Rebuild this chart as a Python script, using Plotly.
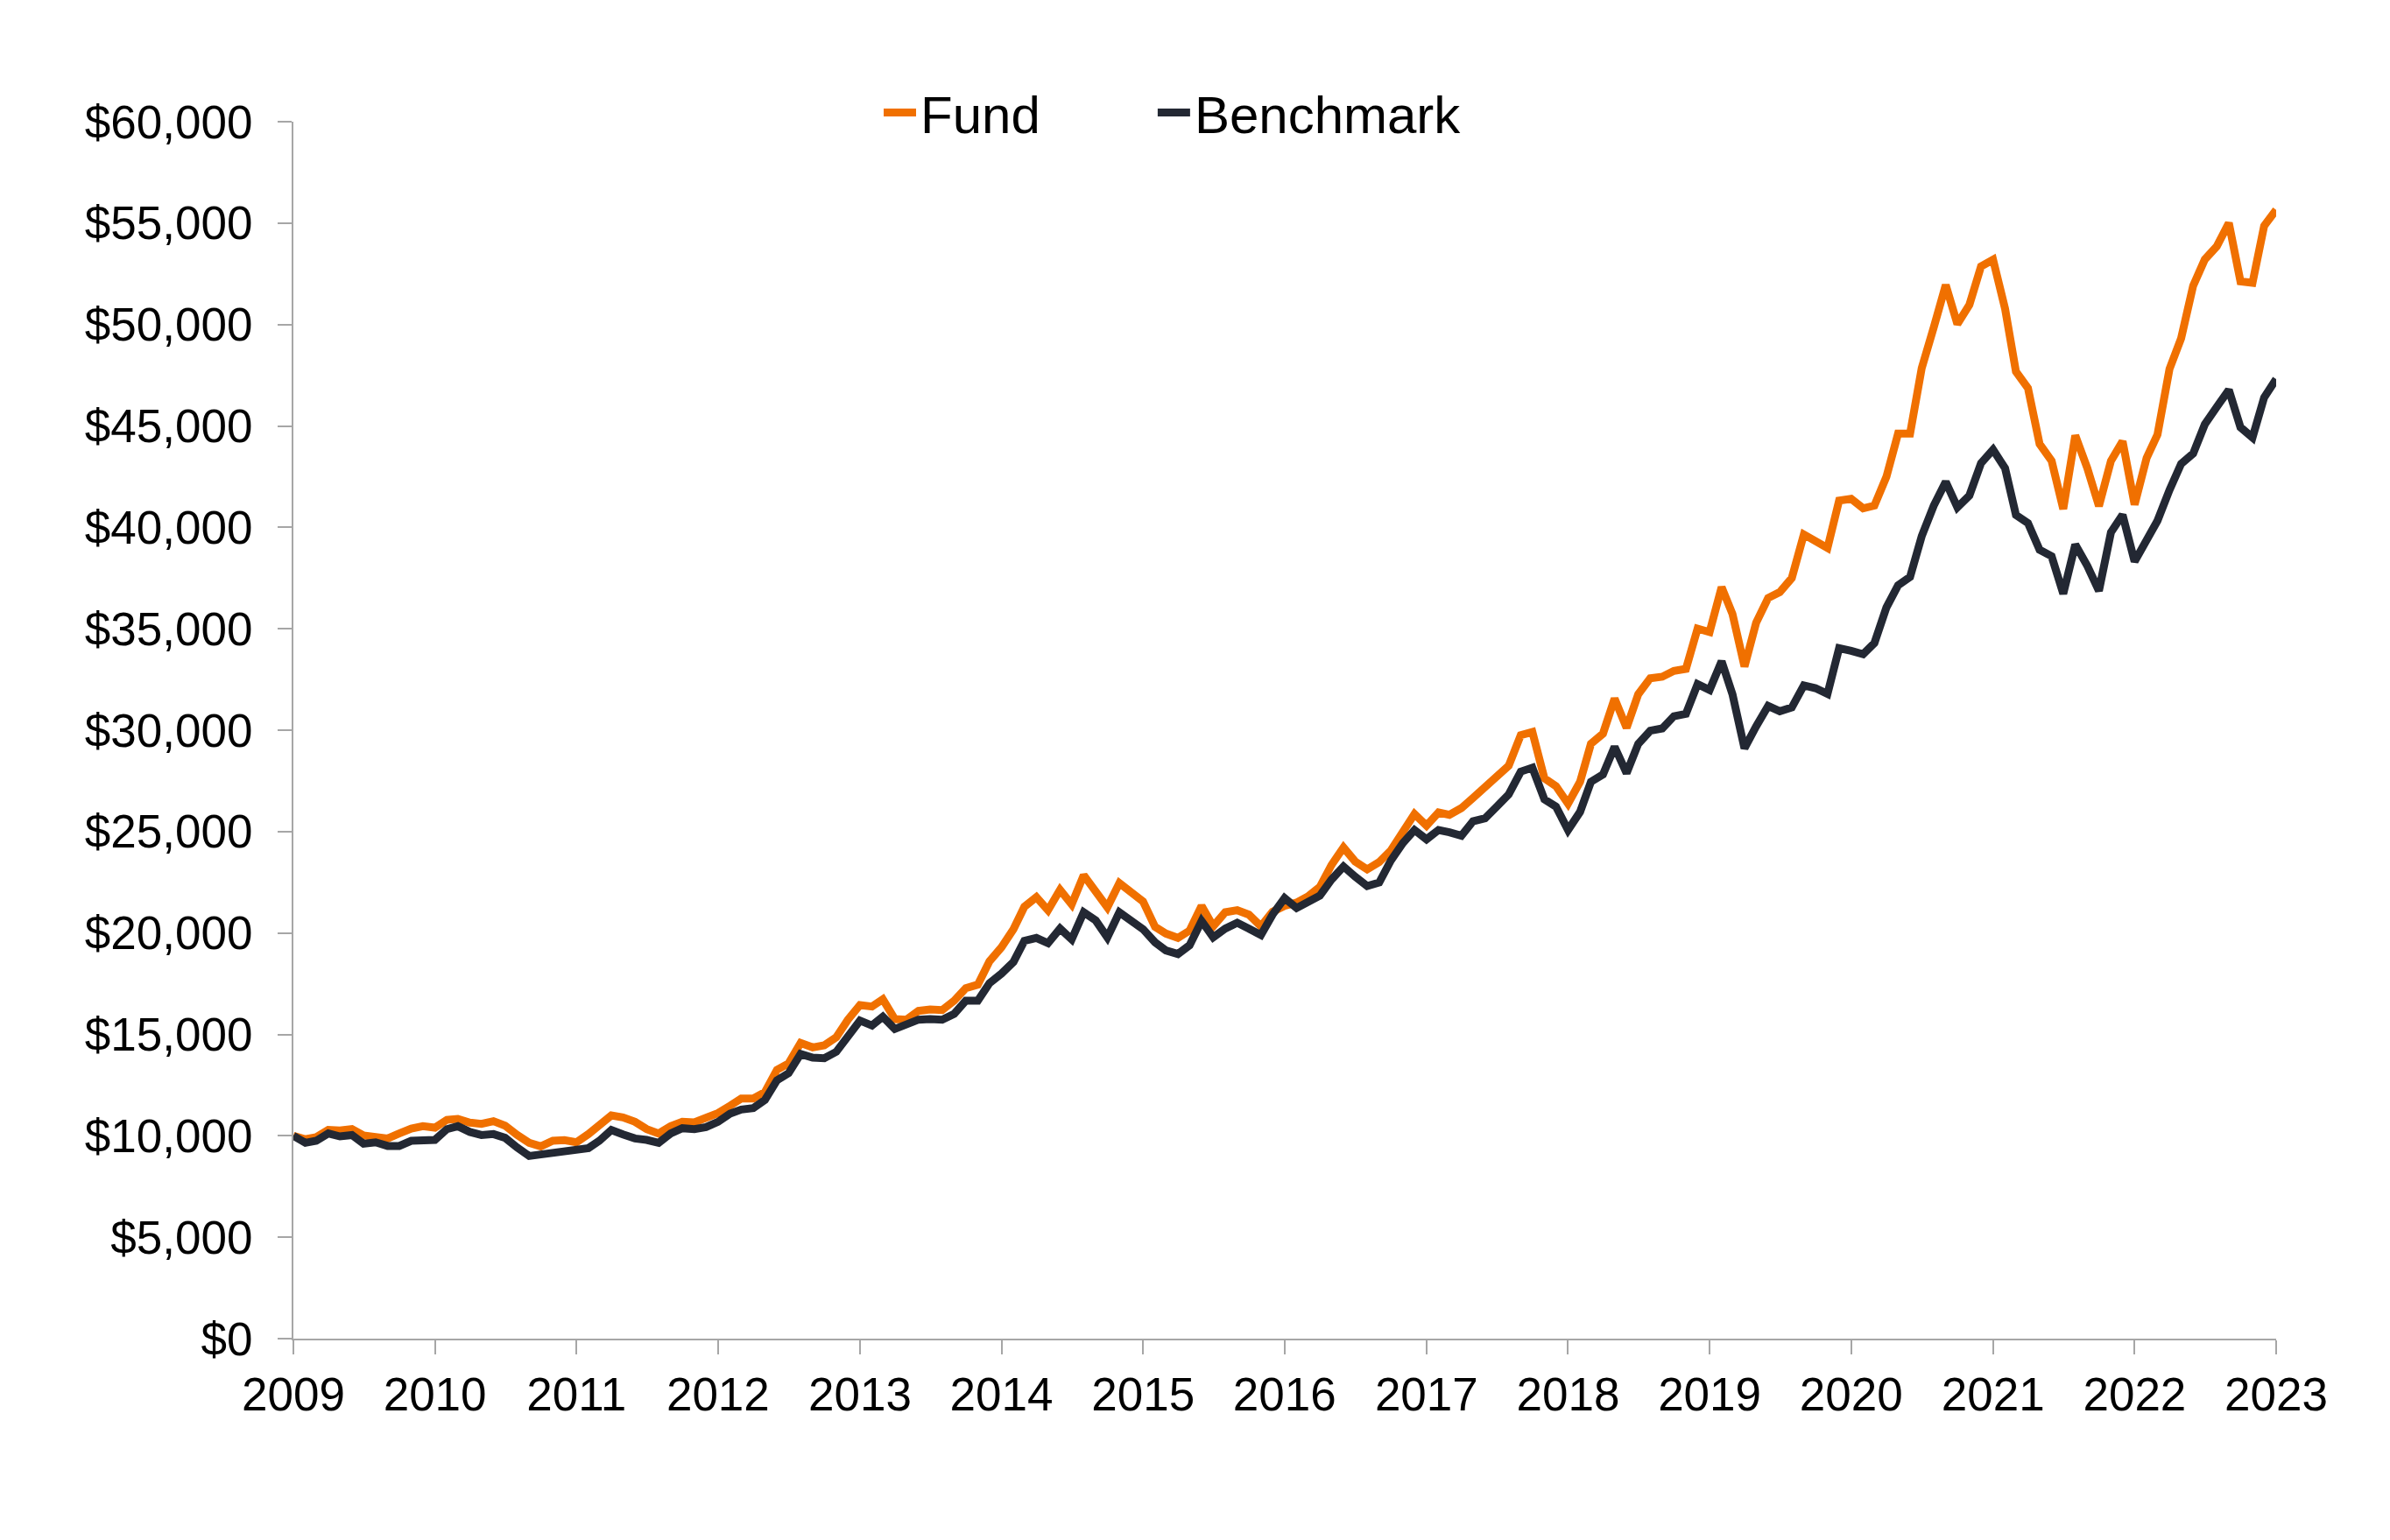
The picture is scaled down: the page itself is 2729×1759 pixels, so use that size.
import pandas as pd
import plotly.graph_objects as go

dates = pd.date_range("2009-01-01", periods=169, freq="MS")

fund = [
    10000, 9830, 9930, 10290, 10260, 10330, 10015, 9970, 9870, 10115, 10360, 10475,
    10400, 10790, 10835, 10650, 10590, 10720, 10500, 10045, 9655, 9480, 9755, 9784,
    9683, 10086, 10503, 11007, 10906, 10690, 10331, 10115, 10474, 10690, 10662, 10863,
    11122, 11482, 11842, 11842, 12158, 13252, 13570, 14575, 14359, 14460, 14863, 15726,
    16446, 16374, 16734, 15755, 15726, 16158, 16230, 16201, 16661, 17280, 17453, 18604,
    19295, 20187, 21295, 21770, 21122, 22129, 21410, 22849, 22057, 21266, 22460, 22057,
    21554, 20302, 19971, 19755, 20115, 21338, 20331, 21021, 21122, 20906, 20331, 21050,
    21340, 21500, 21798, 22273, 23352, 24215, 23525, 23136, 23496, 24071, 25078, 25870,
    25294, 25942, 25827, 26158, 26661, 27237, 27741, 28244, 29755, 29910, 27630, 27237,
    26373, 27453, 29324, 29827, 31554, 30115, 31770, 32561, 32633, 32921, 33021, 35007,
    34835, 37051, 35727, 33137, 35295, 36518, 36806, 37500, 39649, 39348, 38980, 41322,
    41406, 40937, 41071, 42493, 44618, 44618, 47847, 49855, 51946, 50022, 50975, 52866,
    53201, 50775, 47680, 46860, 44110, 43278, 40904, 44530, 42919, 41048, 43278, 44243,
    41120, 43422, 44574, 47811, 49322, 51913, 53208, 53855, 55006, 52128, 52056, 54862,
    55654,
]

benchmark = [
    10000, 9655, 9755, 10115, 9970, 10040, 9610, 9680, 9500, 9500, 9755, 9785,
    9800, 10330, 10475, 10190, 10040, 10085, 9900, 9425, 9005, 9080, 9136, 9208,
    9251, 9395, 9755, 10287, 10072, 9870, 9798, 9654, 10115, 10374, 10331, 10431,
    10690, 11093, 11295, 11367, 11770, 12734, 13086, 14035, 13855, 13827, 14143, 14891,
    15683, 15438, 15870, 15266, 15510, 15726, 15755, 15726, 16014, 16661, 16661, 17525,
    18000, 18575, 19612, 19755, 19496, 20216, 19683, 21021, 20618, 19784, 21021, 20647,
    20187, 19539, 19136, 18963, 19395, 20590, 19784, 20216, 20503, 20216, 19899, 20906,
    21720, 21230, 21510, 21841, 22632, 23280, 22776, 22316, 22488, 23568, 24431, 25078,
    24618, 25078, 24963, 24791, 25510, 25654, 26230, 26834, 27956, 28150, 26590, 26229,
    25078, 25971, 27453, 27812, 29180, 27884, 29324, 29971, 30086, 30690, 30805, 32273,
    31985, 33396, 31770, 29108, 30187, 31194, 30930, 31120, 32204, 32071, 31786, 34045,
    33911, 33744, 34296, 36052, 37140, 37558, 39566, 41071, 42243, 40988, 41573, 43163,
    43832, 42912, 40603, 40210, 38890, 38573, 36731, 39148, 38098, 36874, 39753, 40616,
    38314, 39393, 40328, 41840, 43134, 43638, 45077, 45940, 46775, 44933, 44430, 46401,
    47308,
]

series_names = ["Fund", "Benchmark"]
series_colors = ["#F07000", "#232833"]
legend_ids = ["legend", "legend2"]

FONT = "Liberation Sans, Arial, sans-serif"

fig = go.Figure()
for name, vals, col, lg in zip(series_names, [fund, benchmark], series_colors, legend_ids):
    fig.add_trace(go.Scatter(
        x=dates, y=vals, name=name, mode="lines",
        line=dict(color=col, width=9), legend=lg,
    ))

legend_style = dict(
    orientation="h", y=1.0075, xanchor="left", yanchor="middle",
    font=dict(family=FONT, size=60, color="black"),
    itemwidth=37, bgcolor="rgba(0,0,0,0)",
)

fig.update_layout(
    width=2729, height=1759,
    margin=dict(l=335, r=130, t=139, b=230),
    paper_bgcolor="white", plot_bgcolor="white",
    font=dict(family=FONT, size=53, color="black"),
    showlegend=True,
    legend=dict(x=0.2955, **legend_style),
    legend2=dict(x=0.4337, **legend_style),
)

fig.update_xaxes(
    type="date",
    range=[dates[0], dates[-1]],
    dtick="M12", tick0="2009-01-01", tickformat="%Y",
    showgrid=False, zeroline=False,
    showline=True, linecolor="#A6A6A6", linewidth=2,
    ticks="outside", ticklen=16, tickwidth=2, tickcolor="#A6A6A6",
    ticklabelstandoff=0,
    tickfont=dict(family=FONT, size=53, color="black"),
)
fig.update_yaxes(
    range=[0, 60000], dtick=5000,
    tickprefix="$", tickformat=",",
    showgrid=False, zeroline=False,
    showline=True, linecolor="#A6A6A6", linewidth=2,
    ticks="outside", ticklen=16, tickwidth=2, tickcolor="#A6A6A6",
    ticklabelstandoff=18,
    tickfont=dict(family=FONT, size=53, color="black"),
)

fig.write_html("out.html", config={"displayModeBar": False},
               post_script="document.body.style.margin='0';")
